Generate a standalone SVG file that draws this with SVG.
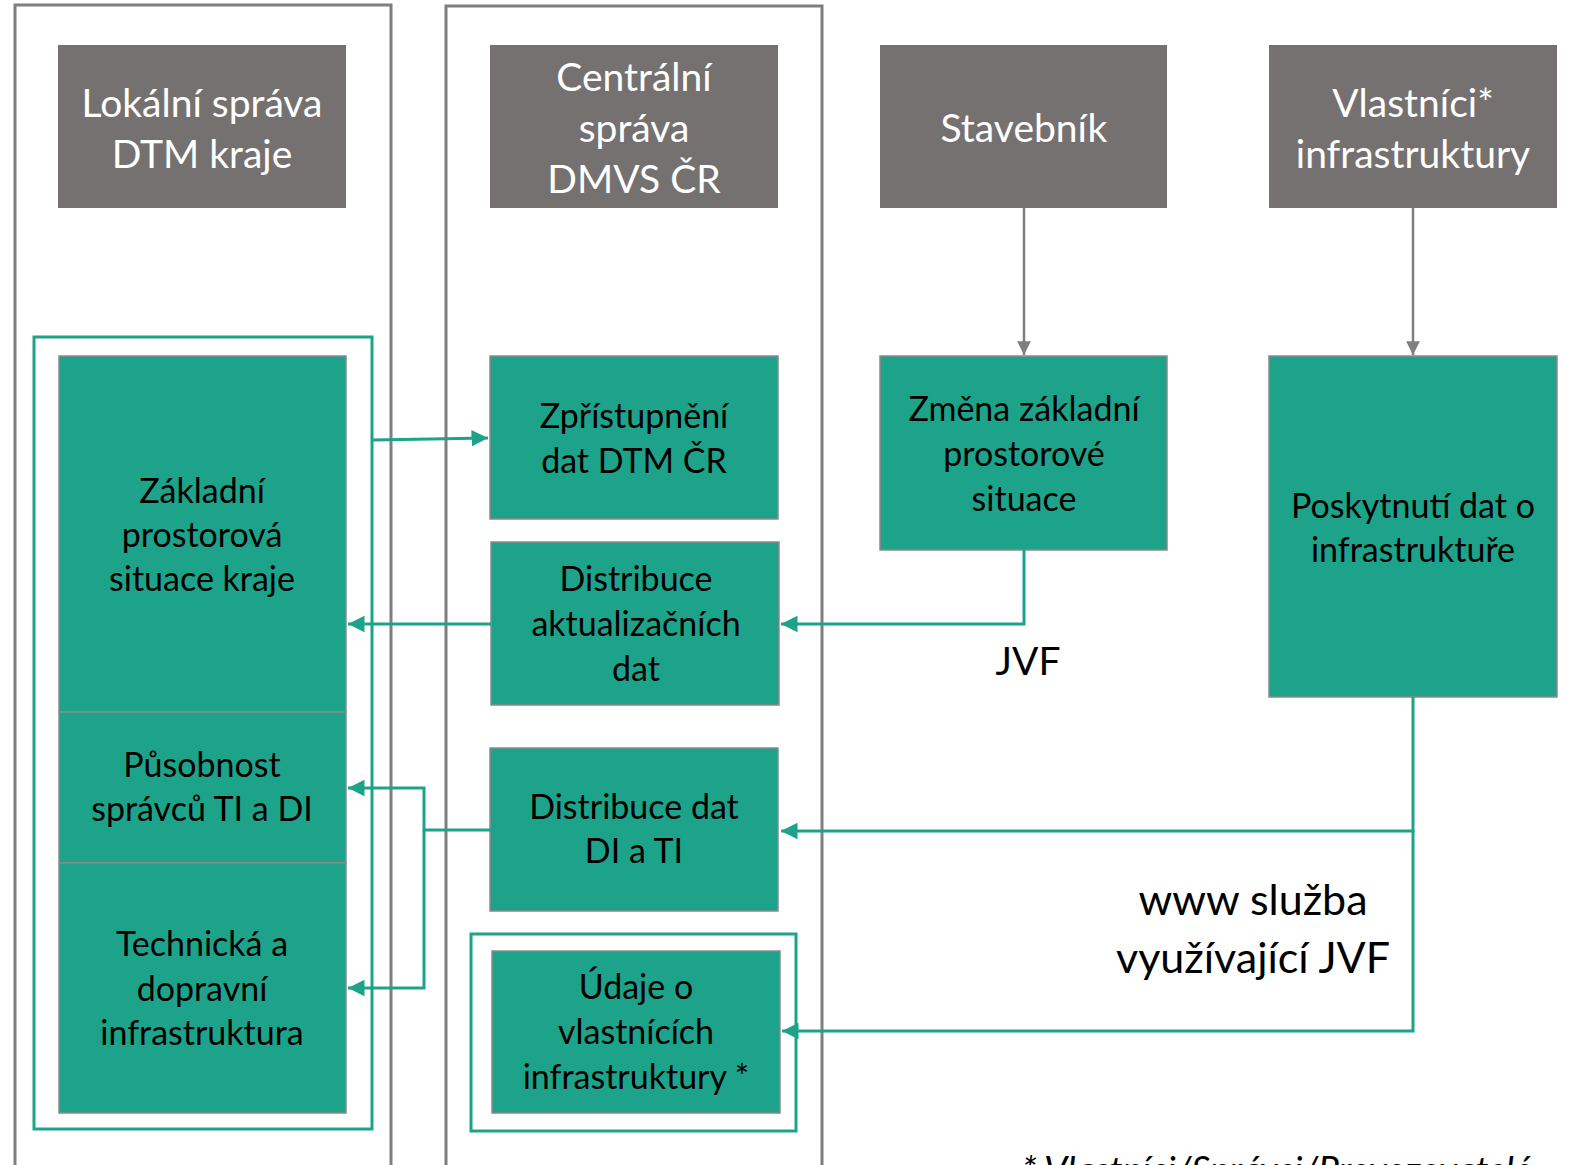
<svg xmlns="http://www.w3.org/2000/svg" width="1573" height="1165" viewBox="0 0 1573 1165">
<defs>
<style>
.frame{fill:none;stroke:#7f7f7f;stroke-width:3}
.tframe{fill:none;stroke:#1da38a;stroke-width:3}
.hdr{fill:#767171}
.teal{fill:#1da38a;stroke:#8a8a8a;stroke-width:1.5}
.ht{font-family:Lato,"Open Sans",sans-serif;font-size:39px;fill:#ffffff;text-anchor:middle}
.tt{font-family:Lato,"Open Sans",sans-serif;font-size:34px;fill:#000000;text-anchor:middle}
.lbl{font-family:Lato,"Open Sans",sans-serif;fill:#000000;text-anchor:middle}
.gline{fill:none;stroke:#7f7f7f;stroke-width:2.5}
.tline{fill:none;stroke:#1da38a;stroke-width:3}
</style>
<marker id="ag" viewBox="0 0 10 10" refX="10" refY="5" markerWidth="5.5" markerHeight="5.5" orient="auto" markerUnits="strokeWidth"><path d="M0,0 L10,5 L0,10 z" fill="#7f7f7f"/></marker>
<marker id="at" viewBox="0 0 10 10" refX="10" refY="5" markerWidth="5.5" markerHeight="5.5" orient="auto" markerUnits="strokeWidth"><path d="M0,0 L10,5 L0,10 z" fill="#1da38a"/></marker>
</defs>
<rect width="1573" height="1165" fill="#ffffff"/>
<g id="lanes">
<path class="frame" d="M15,1170 V5 H391 V1170"/>
<path class="frame" d="M446,1170 V6 H822 V1170"/>
<rect class="tframe" x="34" y="337" width="338" height="792"/>
<rect class="tframe" x="471" y="934" width="325" height="197"/>
</g>
<g id="n-lokalni"><rect class="hdr" x="58" y="45" width="288" height="163"/><text class="ht" x="202" y="117">Lokální správa</text><text class="ht" x="202" y="168">DTM kraje</text></g>
<g id="n-centralni"><rect class="hdr" x="490" y="45" width="288" height="163"/><text class="ht" x="634" y="91">Centrální</text><text class="ht" x="634" y="142">správa</text><text class="ht" x="634" y="193">DMVS ČR</text></g>
<g id="n-stavebnik"><rect class="hdr" x="880" y="45" width="287" height="163"/><text class="ht" x="1024" y="142">Stavebník</text></g>
<g id="n-vlastnici"><rect class="hdr" x="1269" y="45" width="288" height="163"/><text class="ht" x="1413" y="117">Vlastníci*</text><text class="ht" x="1413" y="168">infrastruktury</text></g>
<g id="n-zakladni"><rect class="teal" x="59" y="356" width="287" height="356"/><text class="tt" x="202" y="503">Základní</text><text class="tt" x="202" y="547">prostorová</text><text class="tt" x="202" y="591">situace kraje</text></g>
<g id="n-pusobnost"><rect class="teal" x="59" y="712" width="287" height="151"/><text class="tt" x="202" y="777">Působnost</text><text class="tt" x="202" y="821">správců TI a DI</text></g>
<g id="n-technicka"><rect class="teal" x="59" y="863" width="287" height="250"/><text class="tt" x="202" y="956">Technická a</text><text class="tt" x="202" y="1001">dopravní</text><text class="tt" x="202" y="1045">infrastruktura</text></g>
<g id="n-zpristupneni"><rect class="teal" x="490" y="356" width="288" height="163"/><text class="tt" x="634" y="428">Zpřístupnění</text><text class="tt" x="634" y="473">dat DTM ČR</text></g>
<g id="n-distribuce-akt"><rect class="teal" x="491" y="542" width="288" height="163"/><text class="tt" x="636" y="591">Distribuce</text><text class="tt" x="636" y="636">aktualizačních</text><text class="tt" x="636" y="681">dat</text></g>
<g id="n-distribuce-di"><rect class="teal" x="490" y="748" width="288" height="163"/><text class="tt" x="634" y="819">Distribuce dat</text><text class="tt" x="634" y="863">DI a TI</text></g>
<g id="n-udaje"><rect class="teal" x="492" y="951" width="288" height="162"/><text class="tt" x="636" y="999">Údaje o</text><text class="tt" x="636" y="1044">vlastnících</text><text class="tt" x="636" y="1089">infrastruktury *</text></g>
<g id="n-zmena"><rect class="teal" x="880" y="356" width="287" height="194"/><text class="tt" x="1024" y="421">Změna základní</text><text class="tt" x="1024" y="466">prostorové</text><text class="tt" x="1024" y="511">situace</text></g>
<g id="n-poskytnuti"><rect class="teal" x="1269" y="356" width="288" height="341"/><text class="tt" x="1413" y="518">Poskytnutí dat o</text><text class="tt" x="1413" y="562">infrastruktuře</text></g>
<g id="connectors">
<line class="gline" x1="1024" y1="208" x2="1024" y2="355" marker-end="url(#ag)"/>
<line class="gline" x1="1413" y1="208" x2="1413" y2="355" marker-end="url(#ag)"/>
<path class="tline" d="M373,440 L488,438" marker-end="url(#at)"/>
<path class="tline" d="M1024,550 V624 H781" marker-end="url(#at)"/>
<path class="tline" d="M491,624 H348" marker-end="url(#at)"/>
<path class="tline" d="M491,830 H424 V788 H348" marker-end="url(#at)"/>
<path class="tline" d="M424,830 V988 H348" marker-end="url(#at)"/>
<path class="tline" d="M1413,697 V831 H781" marker-end="url(#at)"/>
<path class="tline" d="M1413,831 V1031 H782" marker-end="url(#at)"/>
</g>
<g id="labels">
<text class="lbl" x="1028" y="675" font-size="39">JVF</text>
<text class="lbl" x="1253" y="915" font-size="43">www služba</text>
<text class="lbl" x="1253" y="973" font-size="43">využívající JVF</text>
<text x="1022" y="1183" font-family="Lato,'Open Sans',sans-serif" font-size="37" font-style="italic" fill="#000000">* Vlastníci/Správci/Provozovatelé</text>
</g>
</svg>
